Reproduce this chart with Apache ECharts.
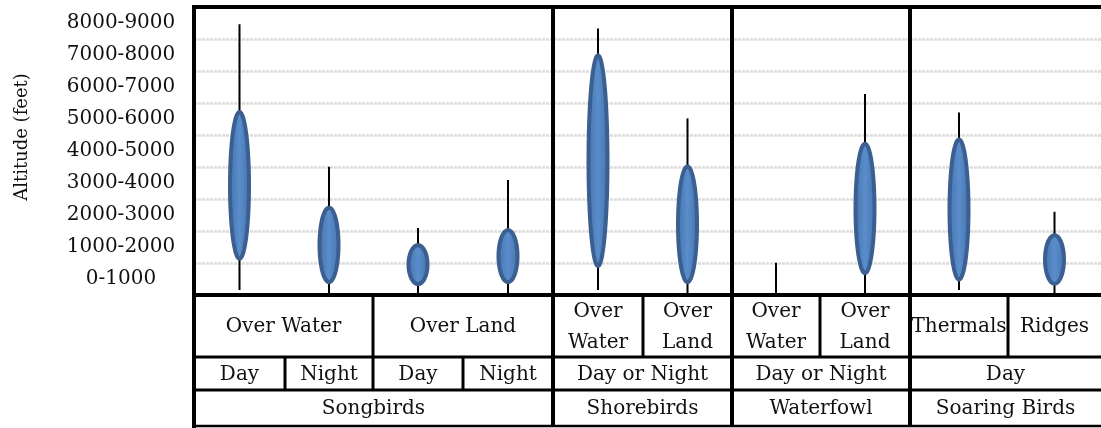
<!DOCTYPE html>
<html>
<head>
<meta charset="utf-8">
<script src="https://cdn.jsdelivr.net/npm/echarts@6/dist/echarts.min.js"></script>
<style>
  html, body { margin: 0; padding: 0; background: #fff; }
  #chart { width: 1101px; height: 428px; }
</style>
</head>
<body>
<div id="chart"></div>
<script>
// ---------------- data ----------------
const altitudeBands = ['0-1000', '1000-2000', '2000-3000', '3000-4000', '4000-5000',
                       '5000-6000', '6000-7000', '7000-8000', '8000-9000'];
const columnNames = ['Songbirds Over Water Day', 'Songbirds Over Water Night',
                     'Songbirds Over Land Day', 'Songbirds Over Land Night',
                     'Shorebirds Over Water', 'Shorebirds Over Land',
                     'Waterfowl Over Water', 'Waterfowl Over Land',
                     'Soaring Birds Thermals', 'Soaring Birds Ridges'];
// altitude in feet
const whiskerLow  = [160, 0, 0, 0, 160, 0, 0, 0, 160, 0];
const ellipseLow  = [1070, 340, 280, 340, 840, 340, null, 620, 420, 290];
const ellipseHigh = [5780, 2790, 1620, 2090, 7550, 4080, null, 4790, 4920, 1930];
const whiskerHigh = [8460, 4010, 2090, 3590, 8330, 5520, 1010, 6280, 5700, 2600];

// table header texts: [text, firstColumn, lastColumn]
const rowHabitat = [['Over Water', 0, 1], ['Over Land', 2, 3], ['Over\nWater', 4, 4], ['Over\nLand', 5, 5],
                    ['Over\nWater', 6, 6], ['Over\nLand', 7, 7], ['Thermals', 8, 8], ['Ridges', 9, 9]];
const rowTime = [['Day', 0, 0], ['Night', 1, 1], ['Day', 2, 2], ['Night', 3, 3],
                 ['Day or Night', 4, 5], ['Day or Night', 6, 7], ['Day', 8, 9]];
const rowGroup = [['Songbirds', 0, 3], ['Shorebirds', 4, 5], ['Waterfowl', 6, 7], ['Soaring Birds', 8, 9]];
const yAxisTitle = 'Altitude (feet)';

// ---------------- layout ----------------
const GRID_L = 194, GRID_T = 7, GRID_W = 907, GRID_B = 295;
const EDGES = [0, 91, 179, 269, 359, 449, 538, 626, 716, 814, 907]; // column edges, px from GRID_L
const ROW_Y = [295, 357, 390, 426];
const FONT = '"DejaVu Serif", "Liberation Serif", serif';
const RX = 9.5, EL_LW = 4;

const seriesData = columnNames.map((n, i) => [i, whiskerLow[i],
  ellipseLow[i] == null ? '-' : ellipseLow[i],
  ellipseHigh[i] == null ? '-' : ellipseHigh[i], whiskerHigh[i]]);

function renderItem(params, api) {
  const col = api.value(0);
  const cxv = (EDGES[col] + EDGES[col + 1]) / 2;
  const lo = api.coord([cxv, api.value(1)]);
  const hi = api.coord([cxv, api.value(4)]);
  const children = [{
    type: 'line',
    shape: { x1: lo[0], y1: lo[1], x2: hi[0], y2: hi[1] },
    style: { stroke: '#000', lineWidth: 2 }
  }];
  const eLo = api.value(2), eHi = api.value(3);
  if (!isNaN(eLo) && !isNaN(eHi)) {
    const pLo = api.coord([cxv, eLo]);
    const pHi = api.coord([cxv, eHi]);
    const cx = pLo[0];
    const cy = (pLo[1] + pHi[1]) / 2;
    const ry = Math.abs(pLo[1] - pHi[1]) / 2 - EL_LW / 2;
    const pts = [];
    for (let k = 0; k < 72; k++) {
      const a = (k / 72) * Math.PI * 2;
      pts.push([cx + RX * Math.cos(a), cy + ry * Math.sin(a)]);
    }
    children.push({
      type: 'polygon',
      shape: { points: pts },
      style: {
        fill: {
          type: 'linear', x: 0, y: 0, x2: 1, y2: 0,
          colorStops: [
            { offset: 0, color: '#4471ab' },
            { offset: 0.5, color: '#5a8dcb' },
            { offset: 1, color: '#4471ab' }
          ]
        },
        stroke: '#3a5f90',
        lineWidth: EL_LW
      }
    });
  }
  return { type: 'group', children: children };
}

// ---------------- table / frame graphics ----------------
const X = i => GRID_L + EDGES[i];
const gfx = [];
function hline(y, x1, x2, lw) {
  gfx.push({ type: 'line', z: 100, shape: { x1: x1, y1: y, x2: x2, y2: y }, style: { stroke: '#000', lineWidth: lw } });
}
function vline(x, y1, y2, lw) {
  gfx.push({ type: 'line', z: 100, shape: { x1: x, y1: y1, x2: x, y2: y2 }, style: { stroke: '#000', lineWidth: lw } });
}
hline(GRID_T, GRID_L - 2, GRID_L + GRID_W, 4);
hline(ROW_Y[0], GRID_L - 2, GRID_L + GRID_W, 4);
hline(ROW_Y[1], GRID_L, GRID_L + GRID_W, 3);
hline(ROW_Y[2], GRID_L, GRID_L + GRID_W, 3);
hline(ROW_Y[3], GRID_L, GRID_L + GRID_W, 2.5);
vline(GRID_L, GRID_T - 2, 428, 4);
[4, 6, 8].forEach(i => vline(X(i), GRID_T, ROW_Y[3], 4));
[2].forEach(i => vline(X(i), ROW_Y[0], ROW_Y[2], 3));
[5, 7, 9].forEach(i => vline(X(i), ROW_Y[0], ROW_Y[1], 3));
[1, 3].forEach(i => vline(X(i), ROW_Y[1], ROW_Y[2], 3));

function addTexts(row, y0, y1) {
  row.forEach(([t, a, b]) => {
    gfx.push({
      type: 'text', z: 100,
      style: {
        text: t, x: (X(a) + X(b + 1)) / 2, y: (y0 + y1) / 2 + 1,
        align: 'center', verticalAlign: 'middle',
        font: '20px ' + FONT, fill: '#111', lineHeight: 31
      }
    });
  });
}
addTexts(rowHabitat, ROW_Y[0], ROW_Y[1]);
addTexts(rowTime, ROW_Y[1], ROW_Y[2]);
addTexts(rowGroup, ROW_Y[2], ROW_Y[3]);

// ---------------- chart ----------------
const chart = echarts.init(document.getElementById('chart'));
chart.setOption({
  animation: false,
  backgroundColor: '#fff',
  grid: { left: GRID_L, top: GRID_T, width: GRID_W, bottom: 428 - GRID_B, containLabel: false },
  xAxis: { type: 'value', min: 0, max: GRID_W, show: false },
  yAxis: [
    {
      type: 'value', min: 0, max: 9000, interval: 1000, position: 'left',
      axisLine: { show: false }, axisTick: { show: false }, axisLabel: { show: false },
      splitLine: { show: true, lineStyle: { color: '#dadada', width: 2.5, type: [3, 1] } },
      name: yAxisTitle, nameLocation: 'middle', nameGap: 163,
      nameTextStyle: { fontFamily: FONT, fontSize: 18, color: '#111', padding: [0, 0, 0, 28] }
    },
    {
      type: 'category', data: altitudeBands, boundaryGap: true, position: 'left',
      axisLine: { show: false }, axisTick: { show: false }, splitLine: { show: false },
      axisLabel: { align: 'center', margin: 73, fontFamily: FONT, fontSize: 20, color: '#111' }
    }
  ],
  series: [{
    type: 'custom',
    renderItem: renderItem,
    xAxisIndex: 0, yAxisIndex: 0,
    encode: { x: 0, y: [1, 2, 3, 4] },
    data: seriesData,
    z: 10
  }],
  graphic: { elements: gfx }
});
</script>
</body>
</html>
